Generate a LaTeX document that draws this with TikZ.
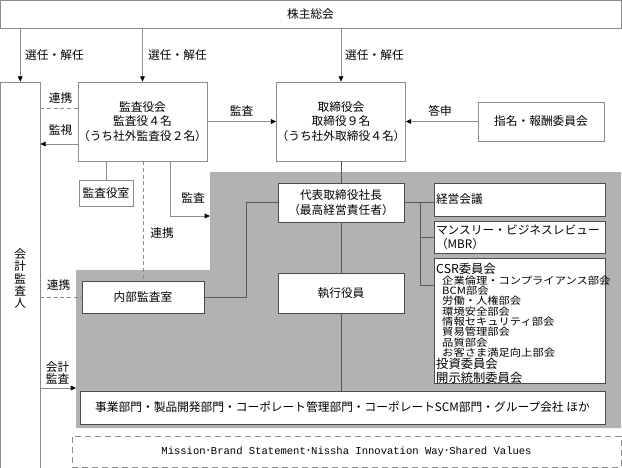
\documentclass[tikz,border=0pt]{standalone}
\usepackage{fontspec}
\setmainfont{Noto Sans CJK JP}
\setmonofont{Liberation Mono}
\newfontfamily\jpfont{Noto Sans CJK JP}
\newfontfamily\jpwide[FakeStretch=1.12]{Noto Sans CJK JP}
\usepackage{tikz}
\usetikzlibrary{positioning,calc,arrows.meta,shadows}

\begin{document}
\begin{tikzpicture}[x=0.3mm,y=-0.3mm,
    font=\fontsize{10}{12.4}\selectfont,
    box/.style={draw=black!45,line width=0.6pt,fill=white,inner sep=0pt,align=center},
    inbox/.style={box,draw=black!70,drop shadow={shadow xshift=0.35mm,shadow yshift=-0.35mm,fill=black!60,opacity=1}},
    link/.style={draw=black!45,line width=0.6pt},
    inlink/.style={draw=black!65,line width=0.6pt},
    arr/.style={link,-{Triangle[length=1.6mm,width=1.4mm,color=black]}},
    dashlink/.style={link,dash pattern=on 1.2mm off 0.8mm},
    lbl/.style={inner sep=0pt,align=center,font=\fontsize{10}{10.8}\selectfont}]
    \useasboundingbox (0,0) rectangle (622,468);

    % Executive area (gray)
    \fill[black!30] (210,172) -- (621,172) -- (621,428) -- (76,428) -- (76,270) -- (210,270) -- cycle;
    \coordinate (g1) at (210,216);
    \coordinate (g2) at (76,388);

    % Shareholders and auditors
    \node[box,minimum width=186.3mm,minimum height=8.4mm] (kabu) at (310.5,14) {株主総会};
    \node[box,minimum width=11.85mm,minimum height=117.9mm,font=\fontsize{10}{10.3}\selectfont] (auditor) at (20.25,278.5) {会\\計\\監\\査\\人};

    % Boards
    \node[box,minimum width=38.1mm,minimum height=23.7mm] (kansa) at (142.5,121.5) {監査役会\\監査役４名\\（うち社外監査役２名）};
    \node[box,minimum width=37.8mm,minimum height=23.7mm] (tori) at (341,121.5) {取締役会\\取締役９名\\（うち社外取締役４名）};
    \node[box,minimum width=37.8mm,minimum height=11.7mm] (shimei) at (541,121.5) {指名・報酬委員会};
    \node[box,minimum width=16.2mm,minimum height=7.8mm] (kansashitsu) at (106,193) {監査役室};

    % Execution side
    \node[inbox,minimum width=36.6mm,minimum height=9.6mm] (naibu) at (143,297) {内部監査室};
    \node[inbox,minimum width=37.8mm,minimum height=11.7mm] (ceo) at (341,202.5) {代表取締役社長\\（最高経営責任者）};
    \node[inbox,minimum width=37.8mm,minimum height=12mm] (shikko) at (341,293) {執行役員};
    \node[inbox,text width=50.1mm,inner xsep=0.6mm,minimum height=9.9mm,align=left] (keiei) at (519.5,199.5) {経営会議};
    \node[inbox,text width=50.1mm,inner xsep=0.6mm,minimum height=9.6mm,align=left] (mbr) at (519.5,237) {マンスリー・ビジネスレビュー\\（MBR）};
    \node[inbox,minimum width=51.3mm,minimum height=37.5mm] (csr) at (519.5,320.5) {};
    \node[anchor=west,inner sep=0pt,font=\fontsize{10.5}{11.9}\selectfont] (csrhead) at (436,269) {CSR委員会};
    \node[anchor=north west,inner sep=0pt,align=left,font=\jpwide\fontsize{8.6}{8.8}\selectfont] (csrsub) at (442,275.5) {企業倫理・コンプライアンス部会\\BCM部会\\労働・人権部会\\環境安全部会\\情報セキュリティ部会\\貿易管理部会\\品質部会\\お客さま満足向上部会};
    \node[anchor=west,inner sep=0pt,align=left,font=\fontsize{10.5}{11.9}\selectfont] (csrmore) at (436,371) {投資委員会\\開示統制委員会};
    \node[inbox,minimum width=157.5mm,minimum height=9.9mm] (jigyo) at (342.5,407.5) {事業部門・製品開発部門・コーポレート管理部門・コーポレートSCM部門・グループ会社 ほか};

    % Values
    \node[box,dash pattern=on 1.8mm off 1.2mm,minimum width=164.7mm,minimum height=9.3mm,font=\ttfamily\fontsize{9}{10}\selectfont] (mission) at (346.5,451.5) {Mission{\jpfont ･}Brand Statement{\jpfont ･}Nissha Innovation Way{\jpfont ･}Shared Values};

    % Appointment
    \draw[arr] (kabu.south -| auditor.north) -- (auditor.north);
    \draw[arr] (kabu.south -| kansa.north) -- (kansa.north);
    \draw[arr] (kabu.south -| tori.north) -- (tori.north);
    \node[lbl,anchor=west] (sel1) at (25,55) {選任・解任};
    \node[lbl,anchor=west] (sel2) at (148,55) {選任・解任};
    \node[lbl,anchor=west] (sel3) at (345,55) {選任・解任};

    % Audit board links
    \coordinate (kr) at ([yshift=4.05mm]kansa.west);
    \draw[dashlink] (kr) -- (kr -| auditor.east);
    \coordinate (km) at ([yshift=-6.75mm]kansa.west);
    \draw[arr] (km) -- (km -| auditor.east);
    \node[lbl] (renkei1) at (60.5,98) {連携};
    \node[lbl] (kanshi) at (60.5,130) {監視};
    \draw[arr] (kansa.east) -- (tori.west);
    \node[lbl] (kansa1) at (241.5,111) {監査};
    \draw[arr] (shimei.west) -- (tori.east);
    \node[lbl] (toshin) at (440,111) {答申};
    \draw[link] (kansa.south -| kansashitsu.north) -- (kansashitsu.north);
    \draw[dashlink] (kansa.south -| naibu.north) -- (naibu.north);
    \node[lbl] (renkei2) at (162,233) {連携};
    \draw[arr] ([xshift=8.25mm]kansa.south) |- (g1);
    \node[lbl] (kansa2) at (193,198) {監査};

    % Accounting auditor links
    \draw[dashlink] (auditor.east |- naibu.west) -- (naibu.west);
    \node[lbl] (renkei3) at (58.5,285) {連携};
    \draw[arr] (auditor.east |- g2) -- (g2);
    \node[lbl] (kaikei) at (57.5,373) {会計\\監査};

    % Executive lines
    \draw[inlink] (tori.south) -- (ceo.north);
    \draw[inlink] (ceo.south) -- (shikko.north);
    \draw[inlink] (shikko.south) -- (shikko.south |- jigyo.north);
    \draw[inlink] (naibu.east) -- ++(42,0) |- (ceo.west);
    \draw[inlink] (ceo.east) -- (ceo.east -| keiei.west);
    \coordinate (bus) at ([xshift=4.8mm]ceo.east);
    \coordinate (csrin) at ([yshift=10.65mm]csr.west);
    \draw[inlink] (bus) |- (mbr.west);
    \draw[inlink] (bus) |- (csrin);
\end{tikzpicture}
\end{document}
